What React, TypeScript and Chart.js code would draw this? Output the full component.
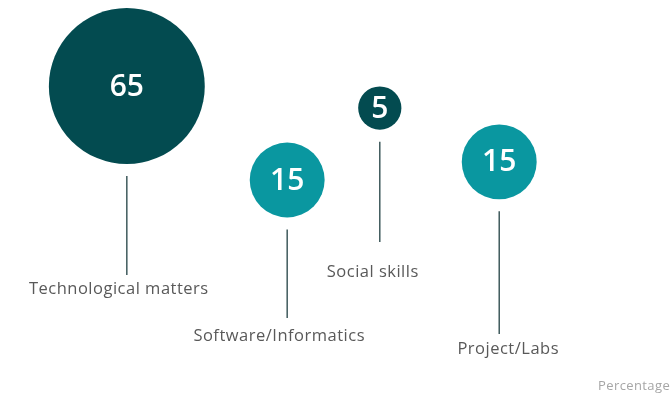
import React, { useEffect, useRef } from "react";
import { Chart, registerables } from "chart.js";

Chart.register(...registerables);

const categories = ["Technological matters", "Software/Informatics", "Social skills", "Project/Labs"];
const values = [65, 15, 5, 15];
const xValues = [18.9, 42.8, 56.6, 74.4];
const yValues = [78.1, 54.2, 72.5, 58.8];
const stemEnd = [30.0, 19.1, 38.4, 15.0];
const labelY = [26.4, 14.4, 30.6, 11.1];
const axisNote = "Percentage";

const DARK = "#034B50";
const LIGHT = "#0A97A0";
const bubbleColors = [DARK, LIGHT, DARK, LIGHT];
const RADIUS_K = 9.67;

const stemPlugin = {
  id: "stems",
  afterDatasetsDraw(chart: any, _args: any, opts: any) {
    const ctx = chart.ctx;
    const meta = chart.getDatasetMeta(0);
    const yScale = chart.scales.y;
    const dx: number[] = opts.labelDx || [];
    ctx.save();
    meta.data.forEach((el: any, i: number) => {
      const r = el.options.radius;
      const x = el.x;
      const top = el.y + r + 12;
      const bottom = yScale.getPixelForValue(stemEnd[i]);
      ctx.strokeStyle = "#3f5a5c";
      ctx.lineWidth = 1.5;
      ctx.beginPath();
      ctx.moveTo(x, top);
      ctx.lineTo(x, bottom);
      ctx.stroke();
      ctx.letterSpacing = "0px";
      ctx.fillStyle = "#ffffff";
      ctx.font = "600 30px 'Open Sans'";
      ctx.textAlign = "center";
      ctx.textBaseline = "middle";
      ctx.fillText(String(values[i]), x, el.y + 1);
      ctx.fillStyle = "#595959";
      ctx.font = "16.5px 'Open Sans'";
      ctx.letterSpacing = "0.5px";
      ctx.fillText(categories[i], x + (dx[i] || 0), yScale.getPixelForValue(labelY[i]));
    });
    ctx.fillStyle = "#a6a6a6";
    ctx.font = "13px 'Open Sans'";
    ctx.letterSpacing = "0.4px";
    ctx.textAlign = "left";
    ctx.textBaseline = "middle";
    ctx.fillText(axisNote, chart.chartArea.left + 598, chart.chartArea.bottom - 7);
    ctx.restore();
  },
};

export default function App() {
  const ref = useRef<HTMLCanvasElement>(null);
  useEffect(() => {
    if (!ref.current) return;
    const chart = new Chart(ref.current, {
      type: "bubble",
      data: {
        labels: categories,
        datasets: [
          {
            data: values.map((v, i) => ({ x: xValues[i], y: yValues[i], r: RADIUS_K * Math.sqrt(v) })),
            backgroundColor: bubbleColors,
            borderWidth: 0,
            hoverRadius: 0,
            clip: false,
          } as any,
        ],
      },
      options: {
        animation: false,
        responsive: true,
        maintainAspectRatio: false,
        layout: { padding: 0, autoPadding: false } as any,
        plugins: {
          legend: { display: false },
          tooltip: { enabled: false },
          stems: { labelDx: [-8, -8, -7, 9] },
        } as any,
        scales: {
          x: { type: "linear", min: 0, max: 100, display: false },
          y: { type: "linear", min: 0, max: 100, display: false },
        },
      },
      plugins: [stemPlugin],
    });
    return () => chart.destroy();
  }, []);
  return (
    <div style={{ position: "fixed", left: 0, top: 0, width: 671, height: 393, background: "#fff" }}>
      <canvas ref={ref} />
    </div>
  );
}
